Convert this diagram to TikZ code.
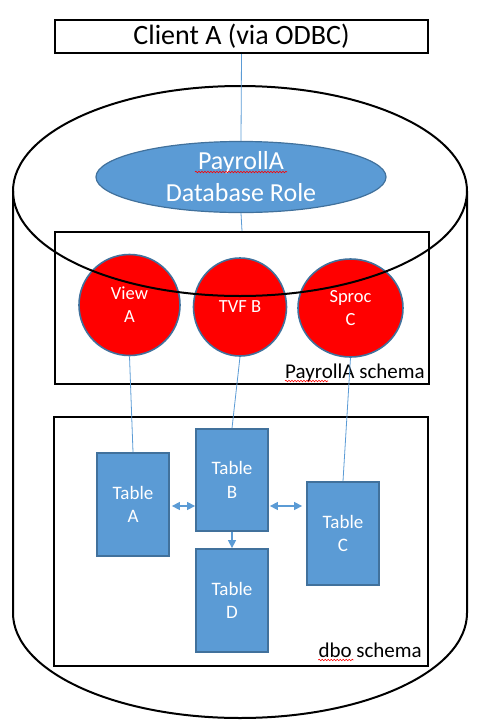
\documentclass[tikz,border=0pt]{standalone}
\usepackage{fontspec}
\setmainfont{Carlito}
\usetikzlibrary{shapes.geometric,arrows.meta,decorations.pathmorphing,calc}
\definecolor{bfill}{HTML}{5B9BD5}
\definecolor{bline}{HTML}{41719C}
\definecolor{cline}{HTML}{5B9BD5}
\tikzset{
  blk/.style={draw=black,line width=2pt},
  schemabox/.style={draw=black,line width=2pt,inner sep=0pt,anchor=north west},
  objcirc/.style={ellipse,draw=bline,line width=1.6pt,fill=red,inner sep=0pt,text=white,align=center,font=\fontsize{18.5}{23}\selectfont},
  tablebox/.style={rectangle,draw=bline,line width=1.8pt,fill=bfill,inner sep=0pt,minimum width=72pt,text=white,align=center,font=\fontsize{19}{23.5}\selectfont},
  conn/.style={draw=cline,line width=0.8pt},
  dbl/.style={draw=cline,line width=1.4pt,{Triangle[length=8pt,width=8pt]}-{Triangle[length=8pt,width=8pt]}},
  sgl/.style={draw=cline,line width=1.4pt,-{Triangle[length=8pt,width=8pt]}},
  lbl/.style={inner sep=0pt,font=\fontsize{21}{24}\selectfont},
  squig/.style={draw=red,line width=0.6pt,decorate,decoration={snake,amplitude=0.8pt,segment length=3pt}}
}
\begin{document}
\begin{tikzpicture}[x=1pt,y=-1pt]
\useasboundingbox (0,0) rectangle (482,724);
% cylinder body
\draw[blk] (13,191) -- (13,613) arc[start angle=180,end angle=360,x radius=227pt,y radius=105pt] -- (467,191);
% client
\node[draw=black,line width=2pt,minimum width=373pt,minimum height=33pt,inner sep=0pt,font=\fontsize{28}{34}\selectfont] (client) at (241.5,36.5) {Client A (via ODBC)};
% schema boxes
\node[schemabox,minimum width=374pt,minimum height=152pt] (schemaA) at (54,231) {};
\node[schemabox,minimum width=374pt,minimum height=249pt] (dbo) at (53,416) {};
% objects
\node[objcirc,minimum width=101pt,minimum height=101pt] (viewA) at (129.5,305) {View\\A};
\node[objcirc,minimum width=93pt,minimum height=98pt] (tvfB) at (240,307) {TVF B};
\node[objcirc,minimum width=105pt,minimum height=98pt] (sprocC) at (350.5,308) {Sproc\\C};
% tables
\node[tablebox,minimum height=103pt] (tA) at (133,504.5) {Table\\A};
\node[tablebox,minimum height=102pt] (tB) at (232,480) {Table\\B};
\node[tablebox,minimum height=103pt] (tC) at (343,533.5) {Table\\C};
\node[tablebox,minimum height=103pt] (tD) at (232,600.5) {Table\\D};
% cylinder top
\draw[blk] (240,191) ellipse[x radius=227pt,y radius=105pt];
% role
\node[ellipse,draw=bline,line width=1.2pt,fill=bfill,minimum width=290pt,minimum height=64pt,inner sep=0pt,text=white,align=center,font=\fontsize{26}{32}\selectfont] (role) at (241,177) {PayrollA\\Database Role};
% labels
\node[lbl,anchor=base east] (lblA) at (425,378) {PayrollA schema};
\node[lbl,anchor=base east] (lblD) at (422,657) {dbo schema};
% connectors
\draw[conn] (client.south) -- (role.north);
\draw[conn] (role.south) -- (schemaA.north);
\draw[conn] (viewA.south) -- (tA.north);
\draw[conn] (tvfB.south) -- (tB.north);
\draw[conn] (sprocC.south) -- (tC.north);
\draw[dbl] ($(tA.east)+(2,1.5)$) -- ($(tA.east -| tB.west)+(0,1.5)$);
\draw[dbl] ($(tA.east -| tB.east)+(1,1.5)$) -- ($(tA.east -| tC.west)+(-4,1.5)$);
\draw[sgl] (tB.south) -- (tD.north);
% spelling marks
\draw[squig] (195,172) -- (287,172);
\draw[squig] ($(lblA.base west)+(0,3)$) -- ($(lblA.base west)+(43,3)$);
\draw[squig] (329,306) -- (373,306);
\draw[squig] ($(lblD.base west)+(0,3)$) -- ($(lblD.base west)+(35,3)$);
\end{tikzpicture}
\end{document}
